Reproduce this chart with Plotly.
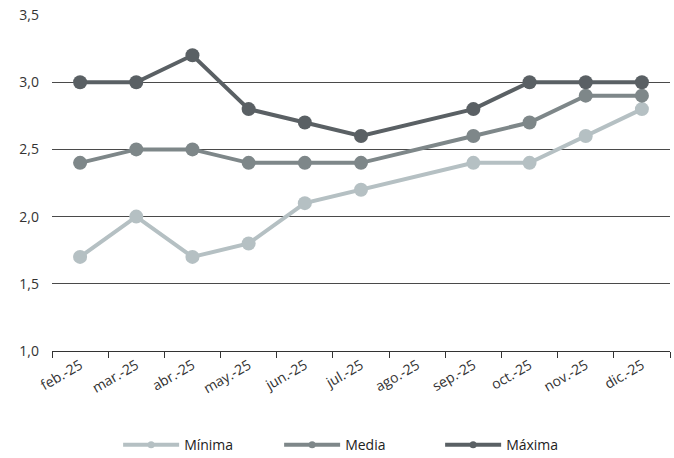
import plotly.graph_objects as go

months = ["feb.-25", "mar.-25", "abr.-25", "may.-25", "jun.-25", "jul.-25",
          "ago.-25", "sep.-25", "oct.-25", "nov.-25", "dic.-25"]
minima = [1.7, 2.0, 1.7, 1.8, 2.1, 2.2, None, 2.4, 2.4, 2.6, 2.8]
media = [2.4, 2.5, 2.5, 2.4, 2.4, 2.4, None, 2.6, 2.7, 2.9, 2.9]
maxima = [3.0, 3.0, 3.2, 2.8, 2.7, 2.6, None, 2.8, 3.0, 3.0, 3.0]

series = [("Mínima", minima, "#b5c0c3"), ("Media", media, "#7e8789"), ("Máxima", maxima, "#5a6064")]

fig = go.Figure()
for name, vals, col in series:
    fig.add_trace(go.Scatter(
        x=months, y=vals, name=name, mode="lines+markers", connectgaps=True,
        line=dict(color=col, width=4), marker=dict(color=col, size=14),
        showlegend=False,
    ))
for name, vals, col in series:
    fig.add_trace(go.Scatter(
        x=[None], y=[None], name=name, mode="lines+markers",
        line=dict(color=col, width=4), marker=dict(color=col, size=7),
        showlegend=True,
    ))

fig.update_layout(
    width=674, height=458,
    margin=dict(l=52, r=4, t=15, b=107),
    paper_bgcolor="white", plot_bgcolor="white",
    font=dict(family="Open Sans, sans-serif", size=14, color="#333333"),
    separators=",.",
    showlegend=True,
    legend=dict(orientation="h", x=0.107, xanchor="left", y=0.028, yanchor="middle",
                yref="container",
                font=dict(size=14, color="#222222"), itemwidth=56,
                entrywidth=90, entrywidthmode="pixels", tracegroupgap=0),
    xaxis=dict(
        type="category", showgrid=False, showline=True, linecolor="#333333", linewidth=1,
        ticks="outside", tickson="boundaries", ticklen=6, tickcolor="#333333",
        tickangle=-30, range=[-0.5, 10.5], automargin=False,
    ),
    yaxis=dict(
        range=[1.0, 3.5], dtick=0.5, tickformat=".1f", showgrid=True,
        gridcolor="#4a4a4a", gridwidth=1, zeroline=False, showline=False,
        ticklabelstandoff=12, automargin=False,
    ),
)

fig.write_html("out.html")
